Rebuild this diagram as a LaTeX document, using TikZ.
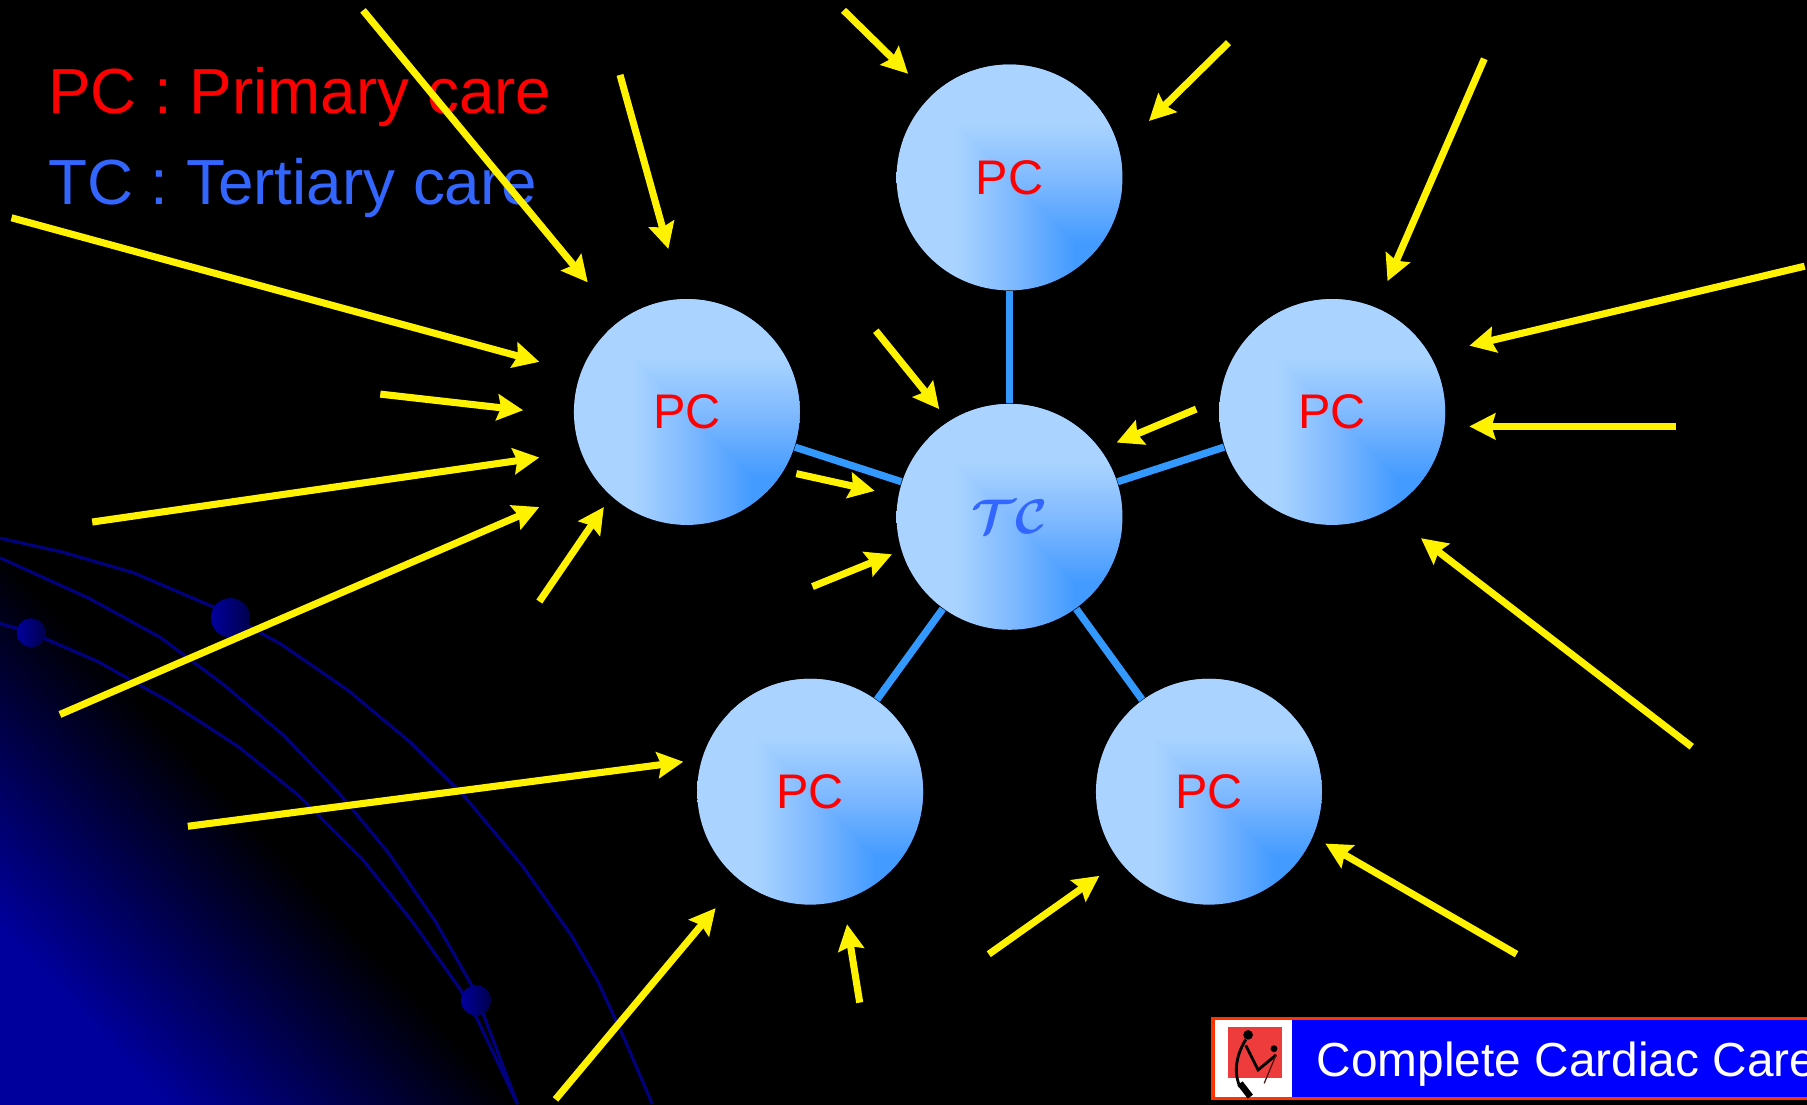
\documentclass[tikz,border=0pt]{standalone}
\usepackage{fontspec}
\setmainfont{Liberation Sans}
\usepackage{amsmath,amssymb}
\usetikzlibrary{arrows.meta}

\definecolor{ballA}{HTML}{AAD4FF}
\definecolor{ballB}{HTML}{7DB8FF}
\definecolor{ballC}{HTML}{449BFF}
\definecolor{linkblue}{HTML}{3399FF}
\definecolor{tcblue}{HTML}{3366FF}
\definecolor{globeblue}{HTML}{00009C}
\definecolor{orbitblue}{HTML}{000080}
\definecolor{logored}{HTML}{EE3B3B}
\definecolor{barred}{HTML}{FF3300}

\pgfdeclarehorizontalshading{ballh}{100bp}{color(0bp)=(ballA); color(37.75bp)=(ballA); color(51bp)=(ballB); color(64.3bp)=(ballC); color(100bp)=(ballC)}
\pgfdeclareverticalshading{ballv}{100bp}{color(0bp)=(ballC); color(35.7bp)=(ballC); color(49bp)=(ballB); color(62.25bp)=(ballA); color(100bp)=(ballA)}
\pgfdeclarehorizontalshading{globe}{100bp}{color(0bp)=(black); color(50bp)=(black); color(64bp)=(globeblue); color(100bp)=(globeblue)}

\tikzset{
  pcball/.style={circle,minimum size=19.6mm,inner sep=0pt,font=\fontsize{12}{14}\selectfont,text=red,
    path picture={
      \path[shade,shading=ballh] (path picture bounding box.north west) rectangle (path picture bounding box.south east);
      \path[shade,shading=ballv] (path picture bounding box.north west) -- (path picture bounding box.north east) -- (path picture bounding box.south east) -- cycle;
    }},
  link/.style={linkblue,line width=1.8pt},
  feed/.style={yellow,line width=1.75pt,-{Stealth[length=6.4pt,width=6.4pt,inset=0.9pt]}},
  orbit/.style={orbitblue,line width=0.75pt,line join=round},
  legendtext/.style={anchor=base west,inner sep=0pt,font=\fontsize{15.75}{19}\selectfont},
}

\begin{document}
\begin{tikzpicture}[x=0.1mm,y=-0.1mm]
  \useasboundingbox (0,0) rectangle (1568,958);
  \fill[black] (-10,-10) rectangle (1578,968);

  % lower left globe
  \shade[shading=globe,shading angle=223] (-175,319) rectangle (625,1119);
  \draw[orbit] (0,467) -- (54,479) -- (116,497) -- (186,527) -- (244,559) -- (302,599) -- (356,644) -- (403,691) -- (453,751) -- (496,812) -- (519,852) -- (542,902) -- (566,958);
  \draw[orbit] (0,484) -- (77,519) -- (139,553) -- (194,594) -- (246,638) -- (294,688) -- (337,740) -- (378,800) -- (411,858) -- (449,958);
  \draw[orbit] (0,541) -- (27,549) -- (85,574) -- (147,609) -- (207,648) -- (260,691) -- (314,745) -- (358,800) -- (399,858) -- (413,882) -- (449,958);
  \shade[left color=globeblue,right color=orbitblue!60!black] (200,536) circle (17);
  \shade[left color=globeblue,right color=orbitblue!60!black] (27,549) circle (12.4);
  \shade[left color=globeblue,right color=orbitblue!60!black] (413,868) circle (13);

  % legend
  \node[legendtext,text=red] (legendPC) at (41,98.5) {PC : Primary care};
  \node[legendtext,text=tcblue] (legendTC) at (41,177.5) {TC : Tertiary care};

  % balls
  \node[pcball,text=tcblue,font=\fontsize{12.5}{15}\selectfont\boldmath] (TC) at (876,448.5) {$\mathcal{TC}$};
  \node[pcball] (PCa) at (876,154) {PC};
  \node[pcball] (PCb) at (596,357.5) {PC};
  \node[pcball] (PCc) at (1156,357.5) {PC};
  \node[pcball] (PCd) at (703,687) {PC};
  \node[pcball] (PCe) at (1049,687) {PC};

  \draw[link] (TC) -- (PCa);
  \draw[link] (TC) -- (PCb);
  \draw[link] (TC) -- (PCc);
  \draw[link] (TC) -- (PCd);
  \draw[link] (TC) -- (PCe);

  % yellow arrows
  \coordinate (T1) at (315,9);     \coordinate (H1) at (510,245);
  \coordinate (T2) at (538,65);    \coordinate (H2) at (580,216);
  \coordinate (T3) at (10,189);    \coordinate (H3) at (468,314);
  \coordinate (T4) at (330,342);   \coordinate (H4) at (454,356);
  \coordinate (T5) at (80,453);    \coordinate (H5) at (468,397);
  \coordinate (T6) at (52,620);    \coordinate (H6) at (468,440);
  \coordinate (T7) at (468,522);   \coordinate (H7) at (524,440);
  \coordinate (T8) at (732,9);     \coordinate (H8) at (788,64);
  \coordinate (T9) at (1066,37);   \coordinate (H9) at (997,105);
  \coordinate (T10) at (1288,51);  \coordinate (H10) at (1204,244);
  \coordinate (T11) at (1566,231); \coordinate (H11) at (1275,300);
  \coordinate (T12) at (1454,370); \coordinate (H12) at (1275,370);
  \coordinate (T13) at (1468,648); \coordinate (H13) at (1233,467);
  \coordinate (T14) at (1316,828); \coordinate (H14) at (1150,732);
  \coordinate (T15) at (858,828);  \coordinate (H15) at (954,760);
  \coordinate (T16) at (746,870);  \coordinate (H16) at (735,802);
  \coordinate (T17) at (482,954);  \coordinate (H17) at (621,788);
  \coordinate (T18) at (163,717);  \coordinate (H18) at (593,661);
  \coordinate (T19) at (760,287);  \coordinate (H19) at (815,355);
  \coordinate (T20) at (1038,355); \coordinate (H20) at (969,384);
  \coordinate (T21) at (691,411);  \coordinate (H21) at (759,426);
  \coordinate (T22) at (705,509);  \coordinate (H22) at (774,481);
  \foreach \i in {1,...,22} \draw[feed] (T\i) -- (H\i);

  % bar at the bottom
  \fill[barred] (1051,882.5) rectangle (1578,954.5);
  \fill[blue] (1121,885) rectangle (1578,952);
  \fill[white] (1054.5,885) rectangle (1121,952);
  \fill[logored] (1065.6,891) rectangle (1112.5,935.7);
  \fill[black] (1083,898) circle (4.2);
  \fill[black] (1105.5,910) circle (3);
  \draw[black,line width=0.7pt] (1081,902) .. controls (1070,920) and (1072,935) .. (1076,943);
  \draw[black,line width=1.6pt] (1076,940) -- (1085,951.6);
  \draw[black,line width=0.7pt] (1081,907) -- (1091.7,928.4) -- (1107.3,915.4);
  \draw[black!70!logored,line width=0.3pt] (1107.3,915.4) -- (1097,940);
  \node[anchor=base west,inner sep=0pt,text=white,font=\fontsize{11.8}{14}\selectfont] (barText) at (1142,934) {Complete Cardiac Care};
\end{tikzpicture}
\end{document}
